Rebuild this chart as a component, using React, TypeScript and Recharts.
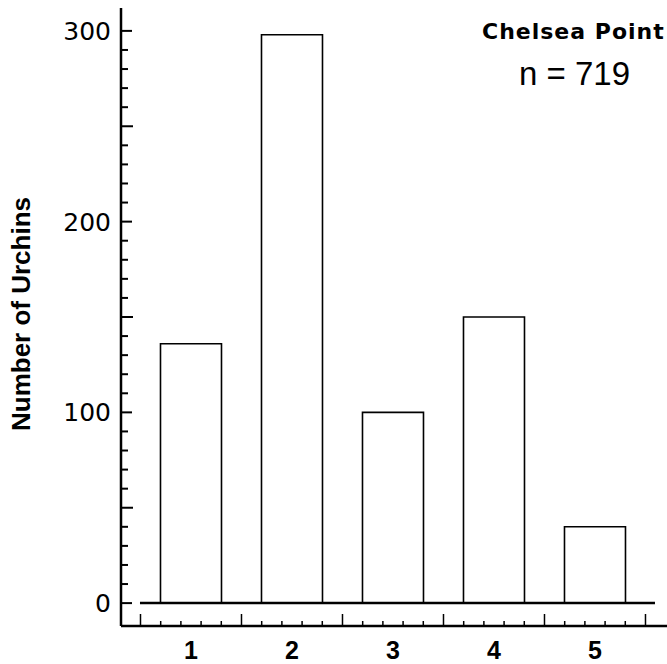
import { BarChart, Bar, XAxis, YAxis, ReferenceLine } from "recharts";

// sample groups and urchin counts
const groups = [1, 2, 3, 4, 5];
const counts = [136, 298, 100, 150, 40];

const yLabelTicks = [0, 100, 200, 300];
const yMarkTicks = [
    0, 10, 20, 30, 40, 50, 60, 70, 80, 90, 100, 110, 120, 130, 140, 150, 160, 170, 180, 190, 200,
    210, 220, 230, 240, 250, 260, 270, 280, 290, 300,
];
const xMarkTicks = [
    0.5, 0.7, 0.9, 1.1, 1.3, 1.5, 1.7, 1.9, 2.1, 2.3, 2.5, 2.7, 2.9, 3.1, 3.3, 3.5, 3.7, 3.9, 4.1,
    4.3, 4.5, 4.7, 4.9, 5.1, 5.3, 5.5,
];
const xMajorTicks = [0.5, 1.5, 2.5, 3.5, 4.5, 5.5];

const data = groups.map((g, i) => ({ group: g, count: counts[i] }));

function YTick(props: any) {
    const { x, y, payload } = props;
    const v = payload.value;
    const len = v % 100 === 0 ? 11 : v % 50 === 0 ? 12 : 7;
    return (
        <g>
            <line x1={x} x2={x + len} y1={y} y2={y} stroke="#000" strokeWidth={2} />
            {yLabelTicks.includes(v) && (
                <text
                    x={x - 10}
                    y={y}
                    dy="0.36em"
                    textAnchor="end"
                    fontFamily="DejaVu Sans"
                    fontSize={25}
                    fill="#000"
                >
                    {v}
                </text>
            )}
        </g>
    );
}

function XTick(props: any) {
    const { x, y, payload } = props;
    const v = payload.value;
    if (groups.includes(v)) {
        return (
            <text
                x={x}
                y={y + 33}
                textAnchor="middle"
                fontFamily="Liberation Sans"
                fontWeight="bold"
                fontSize={25}
                fill="#000"
            >
                {v}
            </text>
        );
    }
    const major = xMajorTicks.some((m) => Math.abs(m - v) < 1e-6);
    return <line x1={x} x2={x} y1={y - 1} y2={y - (major ? 12 : 5)} stroke="#000" strokeWidth={1.5} />;
}

export default function App() {
    return (
        <div style={{ position: "absolute", left: 0, top: 0, width: 667, height: 664, background: "#fff", overflow: "hidden" }}>
            <BarChart width={667} height={664} data={data} margin={{ top: 8, right: 0, left: 0, bottom: 0 }}>
                <XAxis
                    dataKey="group"
                    type="number"
                    domain={[0.307, 5.713]}
                    allowDataOverflow
                    ticks={[...xMarkTicks, ...groups]}
                    interval={0}
                    tickSize={0}
                    tickMargin={0}
                    tickLine={false}
                    tick={<XTick />}
                    height={38}
                    axisLine={{ stroke: "#000", strokeWidth: 2.5 }}
                />
                <YAxis
                    type="number"
                    domain={[-12, 312]}
                    allowDataOverflow
                    ticks={yMarkTicks}
                    interval={0}
                    tickSize={0}
                    tickMargin={0}
                    tickLine={false}
                    tick={<YTick />}
                    width={121}
                    axisLine={{ stroke: "#000", strokeWidth: 2.5 }}
                />
                <Bar
                    dataKey="count"
                    barSize={61}
                    fill="#fff"
                    stroke="#000"
                    strokeWidth={1.6}
                    isAnimationActive={false}
                />
                <ReferenceLine
                    segment={[
                        { x: 0.495, y: 0 },
                        { x: 5.594, y: 0 },
                    ]}
                    stroke="#000"
                    strokeWidth={2.5}
                />
            </BarChart>
            <div
                style={{
                    position: "absolute",
                    left: 21,
                    top: 314,
                    transform: "translate(-50%, -50%) rotate(-90deg)",
                    whiteSpace: "nowrap",
                    fontFamily: "Liberation Sans",
                    fontWeight: "bold",
                    fontSize: 26,
                    lineHeight: 1,
                }}
            >
                Number of Urchins
            </div>
            <div
                style={{
                    position: "absolute",
                    left: 482,
                    top: 21,
                    whiteSpace: "nowrap",
                    fontFamily: "DejaVu Sans",
                    fontWeight: "bold",
                    fontSize: 22,
                    letterSpacing: 1,
                    lineHeight: 1,
                }}
            >
                Chelsea Point
            </div>
            <div
                style={{
                    position: "absolute",
                    left: 519,
                    top: 57,
                    whiteSpace: "nowrap",
                    fontFamily: "Liberation Sans",
                    fontSize: 33,
                    lineHeight: 1,
                }}
            >
                n = 719
            </div>
        </div>
    );
}
